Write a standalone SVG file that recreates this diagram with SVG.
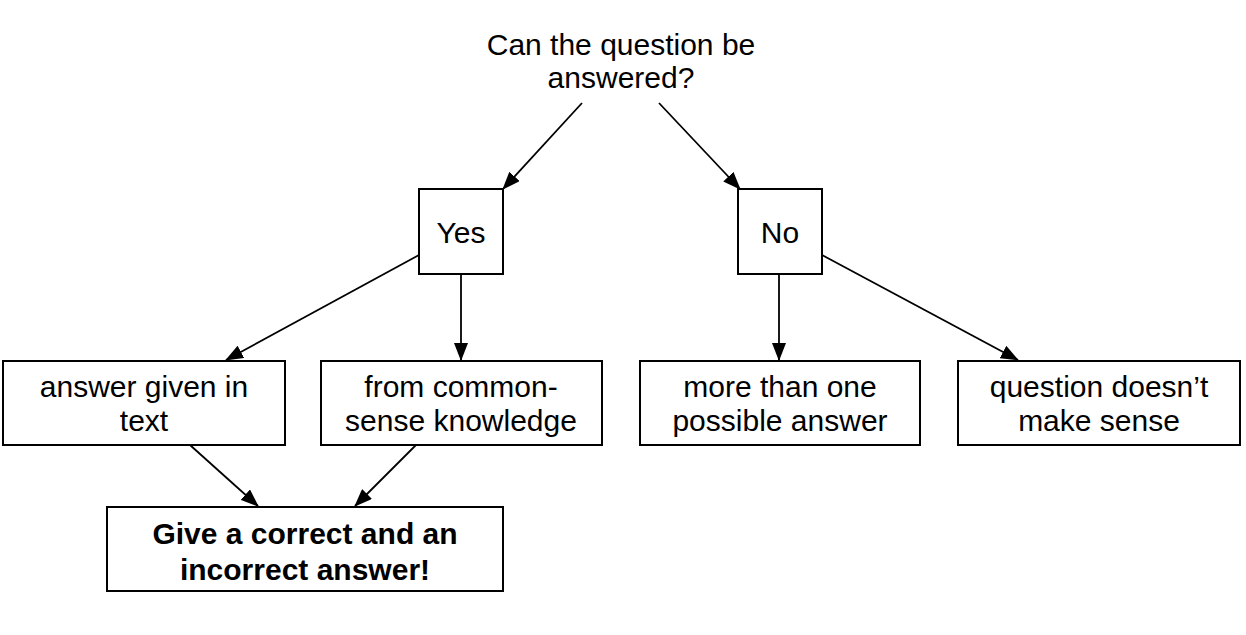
<svg xmlns="http://www.w3.org/2000/svg" width="1246" height="635" viewBox="0 0 1246 635">
<style>
.box{fill:#fff;stroke:#000;stroke-width:2}
.t{font-family:"Liberation Sans",Arial,sans-serif;font-size:30px;fill:#000;text-anchor:middle}
.b{font-weight:bold}
.c{stroke:#000;stroke-width:1.8;fill:none;marker-end:url(#ah)}
</style>
<defs>
<marker id="ah" markerWidth="18" markerHeight="14" refX="17" refY="7" orient="auto" markerUnits="userSpaceOnUse">
<path d="M0,0 L18,7 L0,14 Z" fill="#000"/>
</marker>
</defs>
<rect width="1246" height="635" fill="#fff"/>
<g id="connectors">
<line class="c" x1="582" y1="103" x2="503" y2="189"/>
<line class="c" x1="659" y1="103" x2="740" y2="189"/>
<line class="c" x1="419" y1="255" x2="226" y2="360"/>
<line class="c" x1="461" y1="274" x2="461" y2="360"/>
<line class="c" x1="779" y1="274" x2="779" y2="360"/>
<line class="c" x1="822" y1="255" x2="1018" y2="360"/>
<line class="c" x1="190" y1="445" x2="258" y2="506"/>
<line class="c" x1="416" y1="445" x2="355" y2="506"/>
</g>
<g id="question">
<text class="t" x="621" y="55">Can the question be</text>
<text class="t" x="621" y="88">answered?</text>
</g>
<g id="yes">
<rect class="box" x="419" y="189" width="84" height="85"/>
<text class="t" x="461" y="243">Yes</text>
</g>
<g id="no">
<rect class="box" x="738" y="189" width="84" height="85"/>
<text class="t" x="780" y="243">No</text>
</g>
<g id="given">
<rect class="box" x="3" y="361" width="282" height="84"/>
<text class="t" x="144" y="397">answer given in</text>
<text class="t" x="144" y="431">text</text>
</g>
<g id="common">
<rect class="box" x="321" y="361" width="281" height="84"/>
<text class="t" x="461" y="397">from common-</text>
<text class="t" x="461" y="431">sense knowledge</text>
</g>
<g id="multiple">
<rect class="box" x="640" y="361" width="280" height="84"/>
<text class="t" x="780" y="397">more than one</text>
<text class="t" x="780" y="431">possible answer</text>
</g>
<g id="nonsense">
<rect class="box" x="958" y="361" width="282" height="84"/>
<text class="t" x="1099" y="397">question doesn’t</text>
<text class="t" x="1099" y="431">make sense</text>
</g>
<g id="give">
<rect class="box" x="107" y="507" width="396" height="84"/>
<text class="t b" x="305" y="544">Give a correct and an</text>
<text class="t b" x="305" y="580">incorrect answer!</text>
</g>
</svg>
